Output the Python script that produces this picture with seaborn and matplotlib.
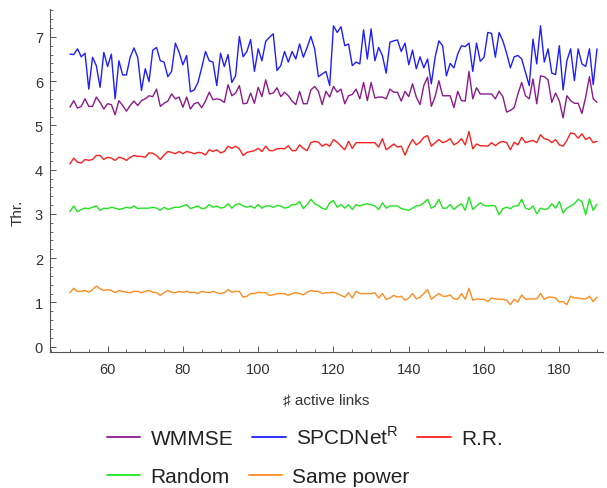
import numpy as np
import pandas as pd
import matplotlib
matplotlib.use("Agg")
import matplotlib.pyplot as plt
from matplotlib.lines import Line2D
from matplotlib.ticker import MultipleLocator
import seaborn as sns

links = list(range(50, 191))

wmmse = [5.41, 5.56, 5.39, 5.43, 5.60, 5.43, 5.43, 5.64, 5.52, 5.37, 5.49, 5.47, 5.24, 5.56, 5.45, 5.32, 5.45, 5.55, 5.45, 5.56,
         5.60, 5.67, 5.65, 5.82, 5.43, 5.50, 5.55, 5.71, 5.60, 5.64, 5.41, 5.64, 5.37, 5.49, 5.52,
         5.40, 5.55, 5.75, 5.58, 5.60, 5.58, 5.52, 5.92, 5.67, 5.73, 5.90, 5.49, 5.50, 5.73, 5.50, 5.86, 5.65, 6.03, 5.71, 5.73,
         5.85, 5.65, 5.75, 5.67, 5.55, 5.47, 5.77, 5.49, 5.49, 5.80, 5.88, 5.77, 5.47, 5.77, 5.64, 5.88,
         5.75, 5.82, 5.49, 5.67, 5.70, 5.82, 5.60, 5.97, 5.56, 5.97, 5.62, 5.64, 5.64, 5.60, 5.82, 5.75, 5.75, 5.55, 5.77, 5.65,
         5.94, 5.64, 5.47, 5.90, 6.09, 5.43, 5.65, 6.01, 5.67, 5.67, 5.67, 5.40, 5.77, 5.56, 5.55, 6.22,
         5.60, 5.85, 5.71, 5.71, 5.71, 5.71, 5.60, 5.77, 5.65, 5.30, 5.34, 5.40, 5.71, 5.97, 5.67, 5.60, 6.05, 5.49, 6.12, 6.10,
         6.03, 5.52, 5.73, 5.55, 5.17, 5.67, 5.56, 5.50, 5.50, 5.27, 5.64, 6.10, 5.60, 5.52]

spcdnet = [6.61, 6.60, 6.73, 6.55, 6.63, 5.82, 6.54, 6.35, 5.86, 6.65, 6.33, 6.61, 5.60, 6.46, 6.14, 6.14, 6.54, 6.75, 6.54, 5.79,
           6.28, 5.99, 6.70, 6.76, 6.46, 6.43, 6.10, 6.22, 6.86, 6.65, 6.37, 6.58, 5.76, 5.80, 5.97,
           6.30, 6.67, 6.46, 6.43, 5.90, 6.63, 6.33, 6.60, 5.97, 6.12, 7.01, 6.55, 6.67, 6.94, 6.22, 6.73, 6.46, 6.90, 6.99, 7.07,
           6.24, 6.35, 6.67, 6.43, 6.67, 6.50, 6.84, 6.54, 6.76, 7.01, 6.73, 6.10, 6.16, 6.22, 5.90, 7.25,
           7.10, 7.23, 6.80, 6.84, 6.35, 6.43, 6.39, 7.16, 6.50, 7.18, 6.46, 6.76, 6.58, 6.18, 6.88, 6.91, 6.93, 6.67, 6.86, 6.37,
           6.70, 6.28, 6.55, 6.30, 6.50, 5.94, 6.54, 6.91, 6.80, 6.12, 6.40, 6.30, 6.61, 6.80, 6.78, 6.86,
           6.22, 6.86, 6.45, 6.54, 7.10, 7.08, 6.54, 7.10, 6.91, 6.63, 6.30, 6.55, 6.58, 6.50, 6.20, 5.90, 6.95, 6.39, 7.25, 6.43,
           6.73, 6.18, 6.15, 6.80, 5.80, 6.46, 6.73, 6.01, 6.73, 6.39, 6.33, 6.73, 5.92, 6.73]

rr = [4.13, 4.26, 4.17, 4.15, 4.23, 4.21, 4.23, 4.32, 4.32, 4.23, 4.28, 4.26, 4.21, 4.28, 4.26, 4.21, 4.28, 4.32, 4.30, 4.30,
      4.28, 4.38, 4.37, 4.32, 4.23, 4.33, 4.41, 4.39, 4.36, 4.41, 4.36, 4.41, 4.39, 4.36, 4.39,
      4.38, 4.33, 4.45, 4.41, 4.45, 4.38, 4.41, 4.53, 4.48, 4.53, 4.47, 4.32, 4.39, 4.41, 4.43, 4.48, 4.41, 4.53, 4.43, 4.43,
      4.47, 4.48, 4.47, 4.54, 4.43, 4.43, 4.56, 4.48, 4.43, 4.61, 4.64, 4.62, 4.53, 4.58, 4.53, 4.68,
      4.62, 4.53, 4.45, 4.64, 4.48, 4.61, 4.61, 4.61, 4.61, 4.61, 4.61, 4.51, 4.70, 4.45, 4.51, 4.58, 4.51, 4.53, 4.33, 4.53,
      4.68, 4.56, 4.62, 4.73, 4.77, 4.53, 4.61, 4.68, 4.61, 4.64, 4.70, 4.56, 4.61, 4.70, 4.56, 4.86,
      4.47, 4.58, 4.54, 4.54, 4.53, 4.61, 4.54, 4.61, 4.64, 4.61, 4.45, 4.62, 4.56, 4.73, 4.61, 4.64, 4.66, 4.61, 4.79, 4.70,
      4.68, 4.61, 4.68, 4.56, 4.53, 4.66, 4.83, 4.81, 4.71, 4.81, 4.68, 4.73, 4.61, 4.64]

rand = [3.05, 3.18, 3.05, 3.10, 3.13, 3.12, 3.15, 3.18, 3.08, 3.13, 3.12, 3.15, 3.13, 3.10, 3.12, 3.15, 3.13, 3.18, 3.12, 3.13,
        3.13, 3.13, 3.15, 3.13, 3.08, 3.15, 3.10, 3.13, 3.15, 3.15, 3.18, 3.21, 3.12, 3.15, 3.18,
        3.12, 3.13, 3.21, 3.15, 3.18, 3.13, 3.15, 3.23, 3.13, 3.21, 3.23, 3.18, 3.15, 3.18, 3.13, 3.21, 3.13, 3.18, 3.18, 3.15,
        3.19, 3.18, 3.13, 3.15, 3.21, 3.21, 3.28, 3.12, 3.21, 3.33, 3.23, 3.19, 3.13, 3.10, 3.25, 3.30,
        3.15, 3.21, 3.13, 3.21, 3.10, 3.21, 3.18, 3.21, 3.23, 3.21, 3.18, 3.10, 3.25, 3.13, 3.18, 3.18, 3.18, 3.12, 3.10, 3.08,
        3.13, 3.18, 3.19, 3.25, 3.33, 3.13, 3.18, 3.33, 3.13, 3.13, 3.21, 3.10, 3.18, 3.23, 3.08, 3.38,
        3.10, 3.18, 3.25, 3.19, 3.18, 3.19, 3.18, 2.98, 3.12, 3.15, 3.12, 3.18, 3.18, 3.33, 3.13, 3.10, 3.18, 3.00, 3.13, 3.10,
        3.12, 3.23, 3.13, 3.28, 3.02, 3.13, 3.18, 3.23, 3.33, 3.28, 2.98, 3.34, 3.08, 3.22]

same = [1.22, 1.32, 1.25, 1.25, 1.27, 1.23, 1.29, 1.37, 1.31, 1.27, 1.29, 1.27, 1.22, 1.27, 1.25, 1.23, 1.22, 1.25, 1.25, 1.22,
        1.25, 1.27, 1.23, 1.22, 1.16, 1.22, 1.27, 1.23, 1.22, 1.25, 1.23, 1.25, 1.22, 1.23, 1.20, 1.25, 1.23, 1.22, 1.25, 1.22,
        1.20, 1.22, 1.29, 1.23, 1.25, 1.25, 1.12, 1.14, 1.20, 1.20, 1.23, 1.22, 1.22, 1.16, 1.17, 1.20, 1.20, 1.20, 1.16, 1.20,
        1.22, 1.20, 1.17, 1.23, 1.27, 1.25, 1.25, 1.20, 1.22,
        1.22, 1.23, 1.20, 1.16, 1.12, 1.22, 1.10, 1.25, 1.20, 1.20, 1.20, 1.20, 1.22, 1.10, 1.20, 1.07, 1.10, 1.16, 1.12, 1.14,
        1.05, 1.10, 1.20, 1.08, 1.12, 1.20, 1.29, 1.07, 1.14, 1.20, 1.14, 1.14, 1.17, 1.08, 1.07, 1.20, 1.07, 1.32, 1.05, 1.08,
        1.07, 1.07, 1.02, 1.10, 1.08, 1.07, 1.07, 1.05, 0.95, 1.07, 1.01, 1.17, 1.07, 1.08, 1.08, 1.08, 1.20, 1.07, 1.12, 1.12,
        1.10, 1.01, 1.02, 0.95, 1.14, 1.10, 1.10, 1.08, 1.08, 1.14, 1.02, 1.12]

series_names = ["WMMSE", "SPCDNet$^\\mathregular{R}$", "R.R.", "Random", "Same power"]
series_values = [wmmse, spcdnet, rr, rand, same]
colors = ["#8c1a8c", "#1f1fff", "#ff1f1f", "#1fe61f", "#ff8c1f"]

frames = []
for name, vals in zip(series_names, series_values):
    n = min(len(links), len(vals))
    frames.append(pd.DataFrame({"links": links[:n], "thr": vals[:n], "method": name}))
df = pd.concat(frames, ignore_index=True)

sns.set_style("white")
plt.rcParams["font.family"] = ["Liberation Sans", "DejaVu Sans"]

fig = plt.figure(figsize=(6.07, 4.89), dpi=100)
ax = fig.add_axes([50 / 607, (489 - 353) / 489, 553 / 607, (353 - 10) / 489])

sns.lineplot(data=df, x="links", y="thr", hue="method", hue_order=series_names,
             palette=dict(zip(series_names, colors)), linewidth=1.0, ax=ax, legend=False)

ax.set_xlim(44.7, 191.6)
ax.set_ylim(-0.12, 7.63)
ax.xaxis.set_major_locator(MultipleLocator(20))
ax.xaxis.set_minor_locator(MultipleLocator(5))
ax.yaxis.set_major_locator(MultipleLocator(1))
ax.yaxis.set_minor_locator(MultipleLocator(0.2))
ax.set_xticks([60, 80, 100, 120, 140, 160, 180])

for s in ["top", "right"]:
    ax.spines[s].set_visible(False)
for s in ["left", "bottom"]:
    ax.spines[s].set_color("#555555")
    ax.spines[s].set_linewidth(0.8)

ax.tick_params(which="both", bottom=True, left=True, top=False, right=False)
ax.tick_params(which="major", direction="in", length=4.3, width=0.7, color="#555555",
               labelsize=10.5, labelcolor="#333333", pad=5)
ax.tick_params(which="minor", direction="in", length=2.3, width=0.6, color="#555555")
ax.tick_params(axis="x", which="major", pad=7)

ax.set_xlabel("\u266f active links", fontsize=11, color="#333333")
ax.xaxis.set_label_coords(0.5, (353 - 393) / 343)
ax.set_ylabel("Thr.", fontsize=11, color="#333333")
ax.yaxis.set_label_coords((25 - 50) / 553, (353 - 213) / 343)
ax.grid(False)

def handles(idx):
    return [Line2D([], [], color=colors[i], lw=1.3, label=series_names[i]) for i in idx]

common = dict(loc="center left", frameon=False, fontsize=15, handlelength=1.6, handletextpad=0.5,
              columnspacing=0.9, borderpad=0, borderaxespad=0)
leg1 = fig.legend(handles=handles([0, 1, 2]), bbox_to_anchor=(107 / 607, 1 - 438 / 489), ncol=3, **common)
leg2 = fig.legend(handles=handles([3, 4]), bbox_to_anchor=(107 / 607, 1 - 478 / 489), ncol=2, **common)
for lg in (leg1, leg2):
    for t in lg.get_texts():
        t.set_color("#222222")

fig.savefig("out.png", dpi=100)
